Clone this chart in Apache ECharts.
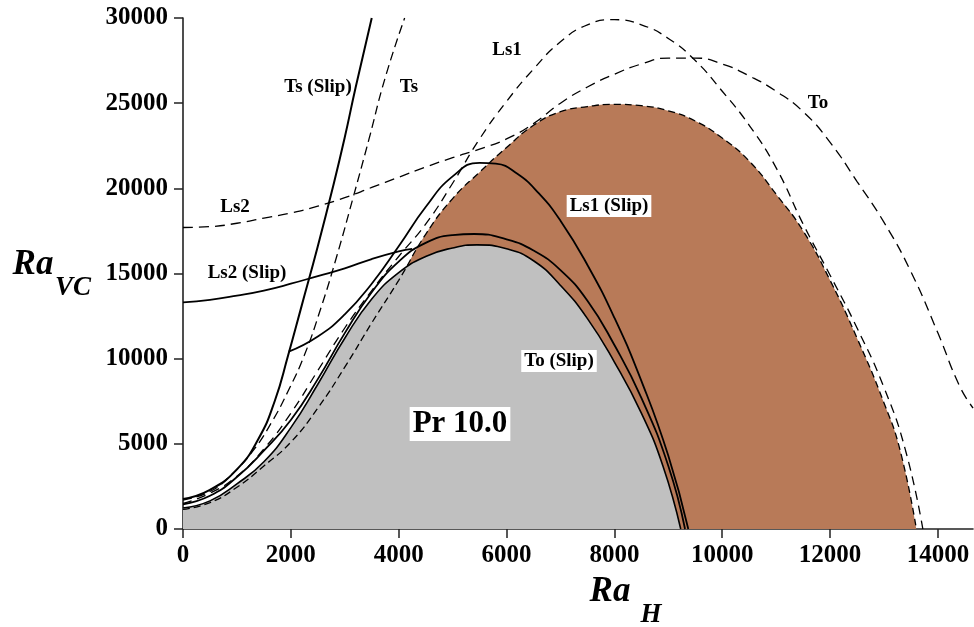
<!DOCTYPE html>
<html><head><meta charset="utf-8">
<script src="https://cdn.jsdelivr.net/npm/echarts@6/dist/echarts.min.js"></script>
<style>html,body{margin:0;padding:0;background:#fff}#c{width:974px;height:627px}</style>
</head><body><div id="c"></div>
<script>
// Tick values
const xTicks = [0, 2000, 4000, 6000, 8000, 10000, 12000, 14000];
const yTicks = [0, 5000, 10000, 15000, 20000, 25000, 30000];

// Gray region boundary (solid)
const grayEdge = [[0,1230],[500,1650],[1000,2650],[1500,3950],[2000,5950],[2500,8500],[3000,11200],[3500,13500],[4000,15050],[4500,16000],[5000,16500],[5450,16680],[6000,16450],[6500,15750],[7000,14300],[7500,12350],[8000,9800],[8500,6800],[8900,3700],[9230,0]];
// Brown region boundary (dashed)
const brownEdge = [[0,1150],[500,1550],[1000,2450],[1500,3700],[2000,5100],[2500,7100],[3000,9500],[3500,12100],[4000,14600],[4500,17300],[5000,19400],[5500,20950],[6000,22400],[6500,23700],[7000,24500],[7500,24800],[8000,24930],[8500,24850],[9000,24550],[9500,23950],[10000,22950],[10500,21600],[11000,19650],[11500,17500],[12000,14600],[12500,11200],[13000,7400],[13300,4600],[13600,0]];
// To (Slip) hump (solid)
const toSlip = [[0,1450],[500,1950],[1000,3050],[1500,4600],[2000,6400],[2500,8800],[3000,11500],[3500,13900],[4000,15700],[4500,16800],[5000,17250],[5400,17320],[6000,17000],[6500,16350],[7000,15200],[7500,13400],[8000,10800],[8500,7700],[9000,3700],[9310,0]];
// Ls2 (Slip) (solid)
const ls2Slip = [[0,13300],[500,13450],[1000,13700],[1500,14000],[2000,14400],[2500,14850],[3000,15300],[3500,15850],[4000,16300],[4250,16450]];
// Ls1 (Slip) (solid)
const ls1Slip = [[1960,10410],[2500,11300],[3000,12600],[3500,14400],[4000,16600],[4500,18900],[5000,20700],[5500,21500],[5800,21450],[6200,20850],[6600,19700],[7000,18100],[7500,15500],[8000,12400],[8500,8700],[9000,4300],[9370,0]];
// Ts (Slip) (solid)
const tsSlip = [[0,1760],[500,2300],[1000,3500],[1400,5300],[1700,7500],[1950,10200],[2200,13100],[2500,16600],[2790,20200],[3000,23000],[3200,25900],[3500,30000]];
// Ts (dashed)
const ts = [[0,1700],[500,2200],[900,3200],[1300,4600],[1650,6300],[1950,8100],[2250,10200],[2550,12900],[2850,16000],[3150,19400],[3450,22900],[3750,26500],[4110,30000]];
// Ls1 (dashed)
const ls1 = [[0,1500],[500,2100],[1000,3100],[1500,4700],[2000,6800],[2500,9300],[3000,11800],[3500,14000],[4000,16000],[4500,17900],[5000,20300],[5500,22900],[6000,25100],[6500,27000],[7000,28600],[7500,29600],[8000,29900],[8500,29600],[9000,28800],[9500,27500],[10000,25700],[10500,23700],[11000,21200],[11500,17900],[12000,14900],[12500,11800],[13000,8300],[13400,4600],[13720,0]];
// Ls2 / To (dashed)
const ls2To = [[0,17700],[500,17750],[1000,17950],[1500,18250],[2000,18550],[2500,18950],[3000,19450],[3500,20050],[4000,20650],[4500,21250],[5000,21800],[5500,22300],[6000,22900],[6500,23800],[7000,25000],[7500,25950],[8000,26700],[8500,27300],[9000,27650],[9500,27650],[10000,27300],[10500,26600],[11000,25700],[11500,24500],[12000,22700],[12500,20400],[13000,18000],[13500,15100],[14000,11500],[14400,8400],[14650,7100]];

const FONT = '"Liberation Serif", "Times New Roman", serif';

function solid(data, w) {
  return {type:'line', data, symbol:'none', smooth:0.5, silent:true, animation:false, z:4,
    lineStyle:{color:'#000', width:w || 1.8, type:'solid'}};
}
function dashed(data, pat) {
  return {type:'line', data, symbol:'none', smooth:0.5, silent:true, animation:false, z:3,
    lineStyle:{color:'#000', width:1.3, type: pat || [9,5]}};
}
function area(data, color, z) {
  return {type:'line', data, symbol:'none', smooth:0.5, silent:true, animation:false, z,
    lineStyle:{width:0}, areaStyle:{color, opacity:1}};
}
function label(text, x, y, size, bg) {
  const st = {text, x, y, align:'center', verticalAlign:'middle', fill:'#000',
    font: 'bold ' + size + 'px ' + FONT};
  if (bg) { st.backgroundColor = '#fff'; st.padding = [2,3,1,3]; }
  return {type:'text', z:10, style:st};
}
const plain = v => String(v);

const chart = echarts.init(document.getElementById('c'), null, {renderer:'canvas'});
chart.setOption({
  animation:false,
  backgroundColor:'#fff',
  grid:{left:183, right:1, top:18, bottom:98, containLabel:false},
  xAxis:{type:'value', min:0, max:14650, interval:2000,
    axisLine:{lineStyle:{color:'#222', width:1.6}},
    axisTick:{length:9, lineStyle:{color:'#222', width:1.5}, customValues:xTicks},
    axisLabel:{customValues:xTicks, formatter:plain, margin:14, color:'#000', fontFamily:FONT, fontWeight:'bold', fontSize:25},
    splitLine:{show:false}},
  yAxis:{type:'value', min:0, max:30000, interval:5000,
    axisLine:{show:true, lineStyle:{color:'#222', width:1.6}},
    axisTick:{show:true, length:9, lineStyle:{color:'#222', width:1.5}, customValues:yTicks},
    axisLabel:{customValues:yTicks, formatter:plain, margin:15, color:'#000', fontFamily:FONT, fontWeight:'bold', fontSize:25},
    splitLine:{show:false}},
  series:[
    area(brownEdge, '#B87A58', 1),
    area(grayEdge, '#C0C0C0', 2),
    dashed(brownEdge, [7,4]),
    dashed(ts, [9,5]),
    dashed(ls1, [9,6]),
    dashed(ls2To, [10,6]),
    solid(grayEdge, 1.6),
    solid(toSlip, 1.8),
    solid(ls2Slip, 1.8),
    solid(ls1Slip, 1.8),
    solid(tsSlip, 2)
  ],
  graphic:[
    {type:'text', z:10, style:{text:'Ra', x:33, y:265, align:'center', verticalAlign:'middle', fill:'#000', font:'italic bold 35px ' + FONT}},
    {type:'text', z:10, style:{text:'VC', x:73, y:288, align:'center', verticalAlign:'middle', fill:'#000', font:'italic bold 27px ' + FONT}},
    {type:'text', z:10, style:{text:'Ra', x:610, y:592, align:'center', verticalAlign:'middle', fill:'#000', font:'italic bold 35px ' + FONT}},
    {type:'text', z:10, style:{text:'H', x:651, y:615, align:'center', verticalAlign:'middle', fill:'#000', font:'italic bold 27px ' + FONT}},
    label('Ts (Slip)', 318, 87, 19),
    label('Ts', 409, 87, 19),
    label('Ls1', 507, 50, 19),
    label('To', 818, 103, 19),
    label('Ls2', 235, 207, 19),
    label('Ls2 (Slip)', 247, 273, 19),
    label('Ls1 (Slip)', 609, 206, 19, true),
    label('To (Slip)', 559, 361, 19, true),
    label('Pr 10.0', 460, 424, 31, true)
  ]
});
</script></body></html>
